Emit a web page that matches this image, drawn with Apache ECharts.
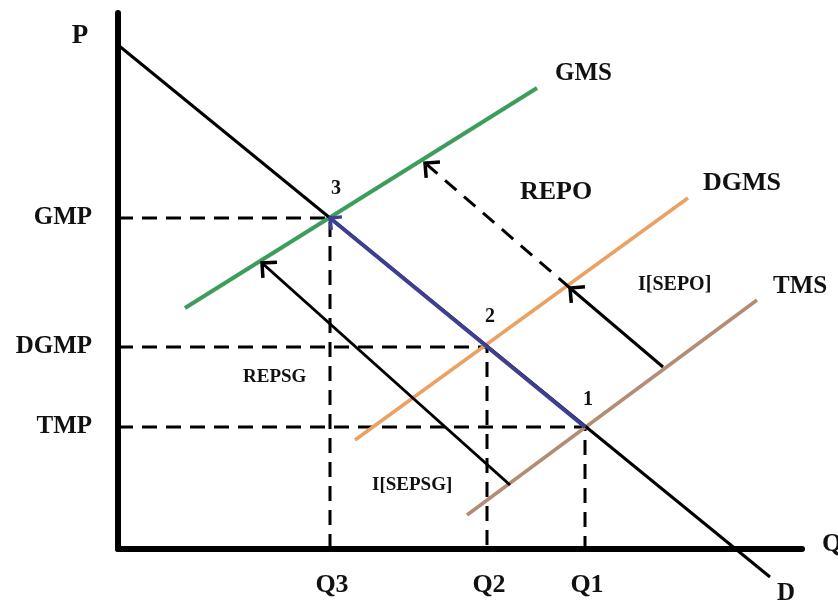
<!DOCTYPE html>
<html>
<head>
<meta charset="utf-8">
<script src="https://cdn.jsdelivr.net/npm/echarts@6/dist/echarts.min.js"></script>
<style>html,body{margin:0;padding:0;background:#fff;}#c{width:838px;height:605px;}</style>
</head>
<body>
<div id="c"></div>
<script>
// Diagram units: quantity along x, price along y (origin at axes corner)
const qLevels = [212, 369, 467];            // Q3, Q2, Q1
const qNames = ['Q3', 'Q2', 'Q1'];
const pLevels = [331, 202, 122];            // GMP, DGMP, TMP
const pNames = ['GMP', 'DGMP', 'TMP'];
const eqNames = ['3', '2', '1'];

const demandD = [[0, 504], [652, -28]];
const supplyGMS = [[67, 241], [419, 461]];
const supplyDGMS = [[237, 109], [570, 351]];
const supplyTMS = [[349, 34], [639, 249]];
// arrows: [x1, y1, x2, y2, dashed]
const arrowSEPSG = [392, 64, 144, 286, 0];
const arrowSEPO1 = [545, 182, 452, 261, 0];
const arrowSEPO2 = [452, 261, 307, 386, 1];
const arrowBlue = [467, 122, 212, 331, 0];

// Text labels: [x, y, text, align, size]
const curveLabels = [
  [437, 475, 'GMS', 'left', 25],
  [585, 366, 'DGMS', 'left', 26],
  [655, 262, 'TMS', 'left', 25],
  [402, 357, 'REPO', 'left', 26],
  [520, 264, 'I[SEPO]', 'left', 20],
  [125, 172, 'REPSG', 'left', 19],
  [254, 64, 'I[SEPSG]', 'left', 19],
  [668, -45, 'D', 'center', 25],
  [704, 5, 'Q', 'left', 26],
  [-38, 513, 'P', 'center', 27]
];
const eqOffsets = [[6, 29], [3, 30], [3, 27]];

const chart = echarts.init(document.getElementById('c'), null, {renderer: 'canvas'});

const FONT = 'Liberation Serif';
const dashStyle = {color: '#000', width: 3, type: [15, 9]};

const series = [];
// dashed guides
for (let i = 0; i < 3; i++) {
  series.push({
    type: 'line', symbol: 'none', clip: false, silent: true, z: 2,
    lineStyle: dashStyle,
    data: [[0, pLevels[i]], [qLevels[i], pLevels[i]], [qLevels[i], 0]]
  });
}
const plain = (data, color, width) => ({
  type: 'line', symbol: 'none', clip: false, silent: true, z: 3,
  lineStyle: {color: color, width: width},
  data: data
});
series.push(plain(supplyGMS, '#3c9d5d', 4));
series.push(plain(supplyDGMS, '#e9a263', 3.5));
series.push(plain(supplyTMS, '#b38d73', 3.5));
series.push(plain(demandD, '#000', 3));

function arrowRender(params, api) {
  const p1 = api.coord([api.value(0), api.value(1)]);
  const p2 = api.coord([api.value(2), api.value(3)]);
  const dashed = api.value(4);
  const blue = api.value(5);
  const color = blue ? '#3d3f92' : '#000';
  const ang = Math.atan2(p2[1] - p1[1], p2[0] - p1[0]);
  const L = blue ? 12 : 15, a = 0.78;
  const h1 = [p2[0] - L * Math.cos(ang - a), p2[1] - L * Math.sin(ang - a)];
  const h2 = [p2[0] - L * Math.cos(ang + a), p2[1] - L * Math.sin(ang + a)];
  return {
    type: 'group',
    children: [
      {type: 'line', shape: {x1: p1[0], y1: p1[1], x2: p2[0], y2: p2[1]},
       style: {stroke: color, lineWidth: blue ? 4 : 3, lineDash: dashed ? [15, 10] : null}},
      {type: 'polyline', shape: {points: [h1, p2, h2]},
       style: {stroke: color, lineWidth: 3.5, fill: null}}
    ]
  };
}
series.push({
  type: 'custom', renderItem: arrowRender, clip: false, silent: true, z: 6,
  data: [arrowBlue.concat([1]), arrowSEPSG.concat([0]), arrowSEPO1.concat([0]), arrowSEPO2.concat([0])]
});

// labels
const labelData = [];
curveLabels.forEach(l => labelData.push({value: [l[0], l[1]], name: l[2], align: l[3], size: l[4]}));
pNames.forEach((n, i) => labelData.push({value: [-26, pLevels[i]], name: n, align: 'right', size: 25}));
qNames.forEach((n, i) => labelData.push({value: [qLevels[i] + 2, -36], name: n, align: 'center', size: 26}));
eqNames.forEach((n, i) => labelData.push({value: [qLevels[i] + eqOffsets[i][0], pLevels[i] + eqOffsets[i][1]], name: n, align: 'center', size: 20}));

series.push({
  type: 'scatter', symbolSize: 0, clip: false, silent: true, z: 8,
  itemStyle: {opacity: 1, color: '#111'},
  data: labelData.map(d => ({
    value: d.value, name: d.name,
    label: {
      show: true, position: 'inside', formatter: d.name,
      fontFamily: FONT, fontWeight: 'bold', fontSize: d.size, color: '#111',
      textBorderWidth: 0, textBorderColor: 'transparent',
      align: d.align, verticalAlign: 'middle'
    }
  }))
});

chart.setOption({
  animation: false,
  backgroundColor: '#fff',
  grid: {left: 118, right: 36, top: 13, bottom: 56},
  xAxis: {
    type: 'value', min: 0, max: 684,
    axisLine: {show: true, lineStyle: {color: '#000', width: 6}},
    axisTick: {show: false}, axisLabel: {show: false}, splitLine: {show: false}
  },
  yAxis: {
    type: 'value', min: 0, max: 536,
    axisLine: {show: true, lineStyle: {color: '#000', width: 6}},
    axisTick: {show: false}, axisLabel: {show: false}, splitLine: {show: false}
  },
  series: series
});
</script>
</body>
</html>
